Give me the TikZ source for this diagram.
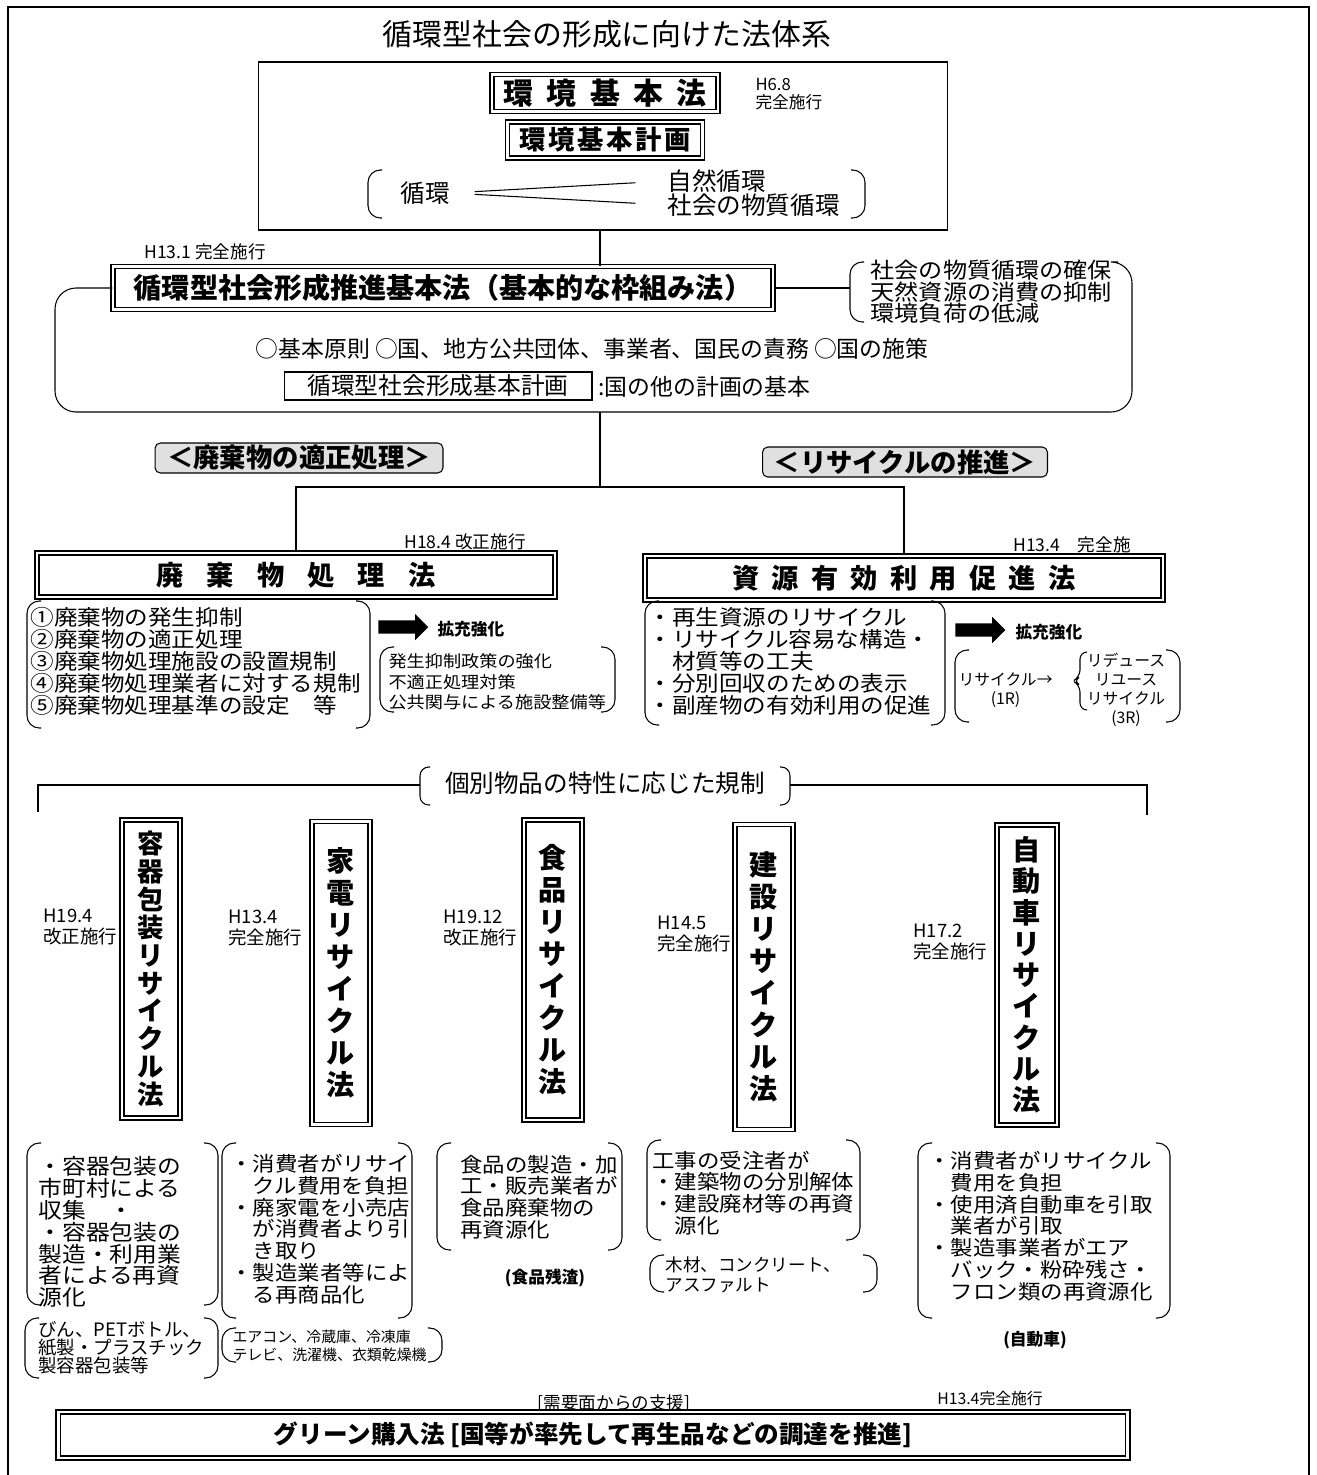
\documentclass[tikz,border=0pt]{standalone}
\usepackage{fontspec}
\setmainfont{Noto Sans CJK JP}
\newfontfamily\jpw[FakeStretch=1.1]{Noto Sans CJK JP}
\usetikzlibrary{positioning, shapes.arrows}

\newcommand\fz[2]{\fontsize{#1}{#2}\selectfont}
% round bracket pair around a text block
\newcommand\parenbox[4]{%
  \draw[rounded corners=7pt] (#1+14,#2) -- (#1,#2) -- (#1,#4) -- (#1+14,#4);
  \draw[rounded corners=7pt] (#3-14,#2) -- (#3,#2) -- (#3,#4) -- (#3-14,#4);}

\begin{document}
\begin{tikzpicture}[x=0.02cm, y=-0.02cm, line width=0.6pt,
  lawbox/.style={draw, double, double distance=1.6pt, line width=0.8pt, inner sep=0pt},
  tatebox/.style={lawbox, minimum width=1.16cm, align=center, font=\bfseries\fz{16}{18.2}},
  framebox/.style={draw, inner sep=0pt},
  tagbox/.style={draw, rounded corners=3pt, fill=black!12, inner sep=0pt, minimum height=0.6cm, font=\bfseries\fz{15}{15}},
  datelabel/.style={inner sep=0pt, align=left, anchor=west, font=\fz{10.5}{11.4}},
  smalllabel/.style={inner sep=0pt, font=\fz{9.5}{10}},
  listtext/.style={inner sep=0pt, align=left, anchor=west},
  fatarrow/.style={single arrow, fill=black, inner xsep=0pt, inner ysep=0.12cm, single arrow head extend=0.13cm, minimum height=1cm},
]
\useasboundingbox (0,0) rectangle (1317,1475);
% --- outer frame ---
\draw[line width=0.7pt] (8,1475) -- (8,7) -- (1309,7) -- (1309,1475);

\node[font=\fz{17}{17}] (title) at (607,34) {循環型社会の形成に向けた法体系};

% --- Environment Basic Law block ---
\node[framebox, minimum width=13.8cm, minimum height=3.36cm] (topframe) at (603,146) {};
\node[lawbox, minimum width=4.52cm, minimum height=0.74cm, font=\bfseries\fz{17}{17}] (kankyoho) at (605,93)
  {環\hspace{.45em}境\hspace{.45em}基\hspace{.45em}本\hspace{.45em}法};
\node[datelabel, font=\fz{9.5}{10.2}] (kankyodate) at (755,94) {H6.8\\完全施行};
\node[lawbox, minimum width=3.9cm, minimum height=0.72cm, font=\bfseries\fz{15}{15}] (kankyokeikaku) at (605,140)
  {環\hspace{.1em}境\hspace{.1em}基\hspace{.1em}本\hspace{.1em}計\hspace{.1em}画};
\node[font=\fz{14}{14}, inner sep=0pt] (junkan) at (425,193) {循環};
\node[listtext, font=\fz{14}{14}] (shizen) at (667,181) {自然循環};
\node[listtext, font=\fz{14}{14}] (shakai) at (667,205) {社会の物質循環};
\draw[shorten <=14pt, shorten >=18pt] (junkan.east) -- (shizen.west);
\draw[shorten <=14pt, shorten >=18pt] (junkan.east) -- (shakai.west);
\parenbox{368}{170}{865}{218}

% --- Basic Act for a sound material-cycle society ---
\node[smalllabel, font=\fz{10}{10}] (kihondate) at (205,252) {H13.1 完全施行};
\node[lawbox, minimum width=13.2cm, minimum height=0.86cm, font=\bfseries\fz{16}{16}] (kihonho) at (443,288)
  {循環型社会形成推進基本法（基本的な枠組み法）};
\draw (topframe.south -| 600,0) -- (kihonho.north -| 600,0);
\node[listtext, font=\jpw\fz{12.5}{12.2}] (mokuteki) at (870,292) {社会の物質循環の確保\\天然資源の消費の抑制\\環境負荷の低減};
\coordinate (mokuparen) at (850,288);
\draw (kihonho.east) -- (mokuparen);
\draw[rounded corners=7pt] (864,262) -- (850,262) -- (850,322) -- (864,322);
\draw[rounded corners=12pt] (kihonho.west) -- (55,288) -- (55,412) -- (1132,412) -- (1132,262) -- (1118,262);
\node[font=\fz{13}{13}, inner sep=0pt] (sekimu) at (592,349) {○基本原則 ○国、地方公共団体、事業者、国民の責務 ○国の施策};
\node[framebox, minimum width=6.16cm, minimum height=0.56cm, font=\fz{13.5}{13.5}] (kihonkeikaku) at (438,386) {循環型社会形成基本計画};
\node[listtext, font=\fz{13}{13}] (kihonkeikakunote) at (598,387) {:国の他の計画の基本};
\coordinate (regionbottom) at (600,412);
\coordinate (fork) at (600,487);

% --- waste / recycling branches ---
\node[tagbox, minimum width=5.76cm] (tekisei) at (299,458) {＜廃棄物の適正処理＞};
\node[tagbox, minimum width=5.7cm] (suishin) at (905,462) {＜リサイクルの推進＞};
\node[smalllabel, font=\fz{10}{10}] (haikidate) at (465,542) {H18.4 改正施行};
\node[lawbox, minimum width=10.36cm, minimum height=0.88cm, font=\bfseries\fz{15.5}{15.5}] (haikiho) at (296,575)
  {廃\hspace{.85em}棄\hspace{.85em}物\hspace{.85em}処\hspace{.85em}理\hspace{.85em}法};
\node[smalllabel, font=\fz{10}{10}] (shigendate) at (1072,545) {H13.4　完全施};
\node[lawbox, minimum width=10.36cm, minimum height=0.88cm, font=\bfseries\fz{15.5}{15.5}] (shigenho) at (904,578)
  {資\hspace{.45em}源\hspace{.45em}有\hspace{.45em}効\hspace{.45em}利\hspace{.45em}用\hspace{.45em}促\hspace{.45em}進\hspace{.45em}法};
\draw (regionbottom) -- (fork);
\draw (haikiho.north) |- (fork) -| (shigenho.north);

\node[listtext, font=\jpw\fz{12.2}{12.5}] (haikilist) at (30,661)
  {①廃棄物の発生抑制\\②廃棄物の適正処理\\③廃棄物処理施設の設置規制\\④廃棄物処理業者に対する規制\\⑤廃棄物処理基準の設定　等};
\parenbox{27}{601}{370}{728}
\node[fatarrow] (haikiarrow) at (400,627) {};
\node[listtext, font=\bfseries\fz{9.5}{9.5}] (haikikakuju) at (437,629) {拡充強化};
\node[listtext, font=\jpw\fz{9.4}{11.6}] (haikikyoka) at (388,682) {発生抑制政策の強化\\不適正処理対策\\公共関与による施設整備等};
\parenbox{380}{647}{615}{712}

\node[listtext, font=\jpw\fz{12.2}{12.5}] (shigenlist) at (648,661)
  {・再生資源のリサイクル\\・リサイクル容易な構造・\\　材質等の工夫\\・分別回収のための表示\\・副産物の有効利用の促進};
\parenbox{645}{601}{945}{725}
\node[fatarrow] (shigenarrow) at (977,630) {};
\node[listtext, font=\bfseries\fz{9.5}{9.5}] (shigenkakuju) at (1015,632) {拡充強化};
\node[listtext, align=center, font=\fz{9}{10.8}] (oneR) at (958,690) {リサイクル→\\(1R)};
\node[inner sep=0pt, align=center, font=\fz{9}{10.8}] (threeR) at (1126,690) {リデュース\\リユース\\リサイクル\\(3R)};
\draw[rounded corners=4pt] (1087,652) -- (1080,652) -- (1080,677) -- (1073,681) -- (1080,685) -- (1080,710) -- (1087,710);
\parenbox{955}{650}{1180}{722}

% --- individual recycling laws ---
\node[font=\fz{14}{14}, inner sep=0pt] (kobetsu) at (605,783) {個別物品の特性に応じた規制};
\draw[rounded corners=5pt] (430,767) -- (420,767) -- (420,805) -- (430,805);
\draw[rounded corners=5pt] (780,767) -- (790,767) -- (790,805) -- (780,805);
\coordinate (kobetsuL) at (420,785);
\coordinate (kobetsuR) at (790,785);
\coordinate (kobetsuLend) at (38,812);
\coordinate (kobetsuRend) at (1147,815);
\draw (kobetsuL) -| (kobetsuLend);
\draw (kobetsuR) -| (kobetsuRend);

\node[tatebox, minimum height=5.96cm, font=\bfseries\fz{15}{15.9}] (yoki) at (151,969) {容\\器\\包\\装\\リ\\サ\\イ\\ク\\ル\\法};
\node[tatebox, minimum height=6.06cm] (kaden) at (341,973) {家\\電\\リ\\サ\\イ\\ク\\ル\\法};
\node[tatebox, minimum height=6cm] (shokuhin) at (553,970) {食\\品\\リ\\サ\\イ\\ク\\ル\\法};
\node[tatebox, minimum height=6.1cm] (kensetsu) at (764,977) {建\\設\\リ\\サ\\イ\\ク\\ル\\法};
\node[tatebox, minimum height=6cm, minimum width=1.2cm, font=\bfseries\fz{16}{17.8}] (jidosha) at (1027,975) {自\\動\\車\\リ\\サ\\イ\\ク\\ル\\法};

\node[datelabel] (yokidate) at (43,927) {H19.4\\改正施行};
\node[datelabel] (kadendate) at (228,928) {H13.4\\完全施行};
\node[datelabel] (shokuhindate) at (443,928) {H19.12\\改正施行};
\node[datelabel] (kensetsudate) at (657,934) {H14.5\\完全施行};
\node[datelabel] (jidoshadate) at (913,942) {H17.2\\完全施行};

% --- contents of each law ---
\node[listtext, font=\jpw\fz{12.3}{12.4}] (yokitext) at (38,1232)
  {・容器包装の\\市町村による\\収集　・\\・容器包装の\\製造・利用業\\者による再資\\源化};
\parenbox{27}{1143}{218}{1305}
\node[listtext, font=\jpw\fz{11.6}{12.4}] (kadentext) at (230,1229)
  {・消費者がリサイ\\　クル費用を負担\\・廃家電を小売店\\　が消費者より引\\　き取り\\・製造業者等によ\\　る再商品化};
\parenbox{222}{1143}{412}{1318}
\node[listtext, font=\jpw\fz{11.6}{12.4}] (shokuhintext) at (460,1197)
  {食品の製造・加\\工・販売業者が\\食品廃棄物の\\再資源化};
\parenbox{437}{1143}{622}{1250}
\node[smalllabel, font=\bfseries\fz{9.5}{10}] (shokuhinnote) at (545,1278) {(食品残渣)};
\node[listtext, font=\jpw\fz{11.6}{12.4}] (kensetsutext) at (652,1193)
  {工事の受注者が\\・建築物の分別解体\\・建設廃材等の再資\\　源化};
\parenbox{647}{1140}{860}{1240}
\node[listtext, font=\fz{10}{11.4}] (kensetsunote) at (665,1275) {木材、コンクリート、\\アスファルト};
\parenbox{650}{1255}{877}{1292}
\node[listtext, font=\jpw\fz{11.6}{12.4}] (jidoshatext) at (928,1226)
  {・消費者がリサイクル\\　費用を負担\\・使用済自動車を引取\\　業者が引取\\・製造事業者がエア\\　バック・粉砕残さ・\\　フロン類の再資源化};
\parenbox{918}{1143}{1170}{1318}
\node[smalllabel, font=\bfseries\fz{9.5}{10}] (jidoshanote) at (1035,1340) {(自動車)};

\node[listtext, font=\fz{10.5}{10.2}] (yokinote) at (38,1348) {びん、PETボトル、\\紙製・プラスチック\\製容器包装等};
\parenbox{25}{1318}{218}{1378}
\node[listtext, font=\fz{8.5}{10.2}] (kadennote) at (232,1346) {エアコン、冷蔵庫、冷凍庫\\テレビ、洗濯機、衣類乾燥機};
\parenbox{222}{1328}{442}{1362}

% --- green purchasing law ---
\node[smalllabel, font=\fz{10}{10}] (juyo) at (614,1404) {[需要面からの支援]};
\node[smalllabel, font=\fz{9}{9}] (greendate) at (990,1398) {H13.4完全施行};
\node[lawbox, minimum width=21.4cm, minimum height=0.92cm, font=\bfseries\fz{14}{14}] (greenho) at (593,1435)
  {グリーン購入法 [国等が率先して再生品などの調達を推進]};
\end{tikzpicture}
\end{document}
